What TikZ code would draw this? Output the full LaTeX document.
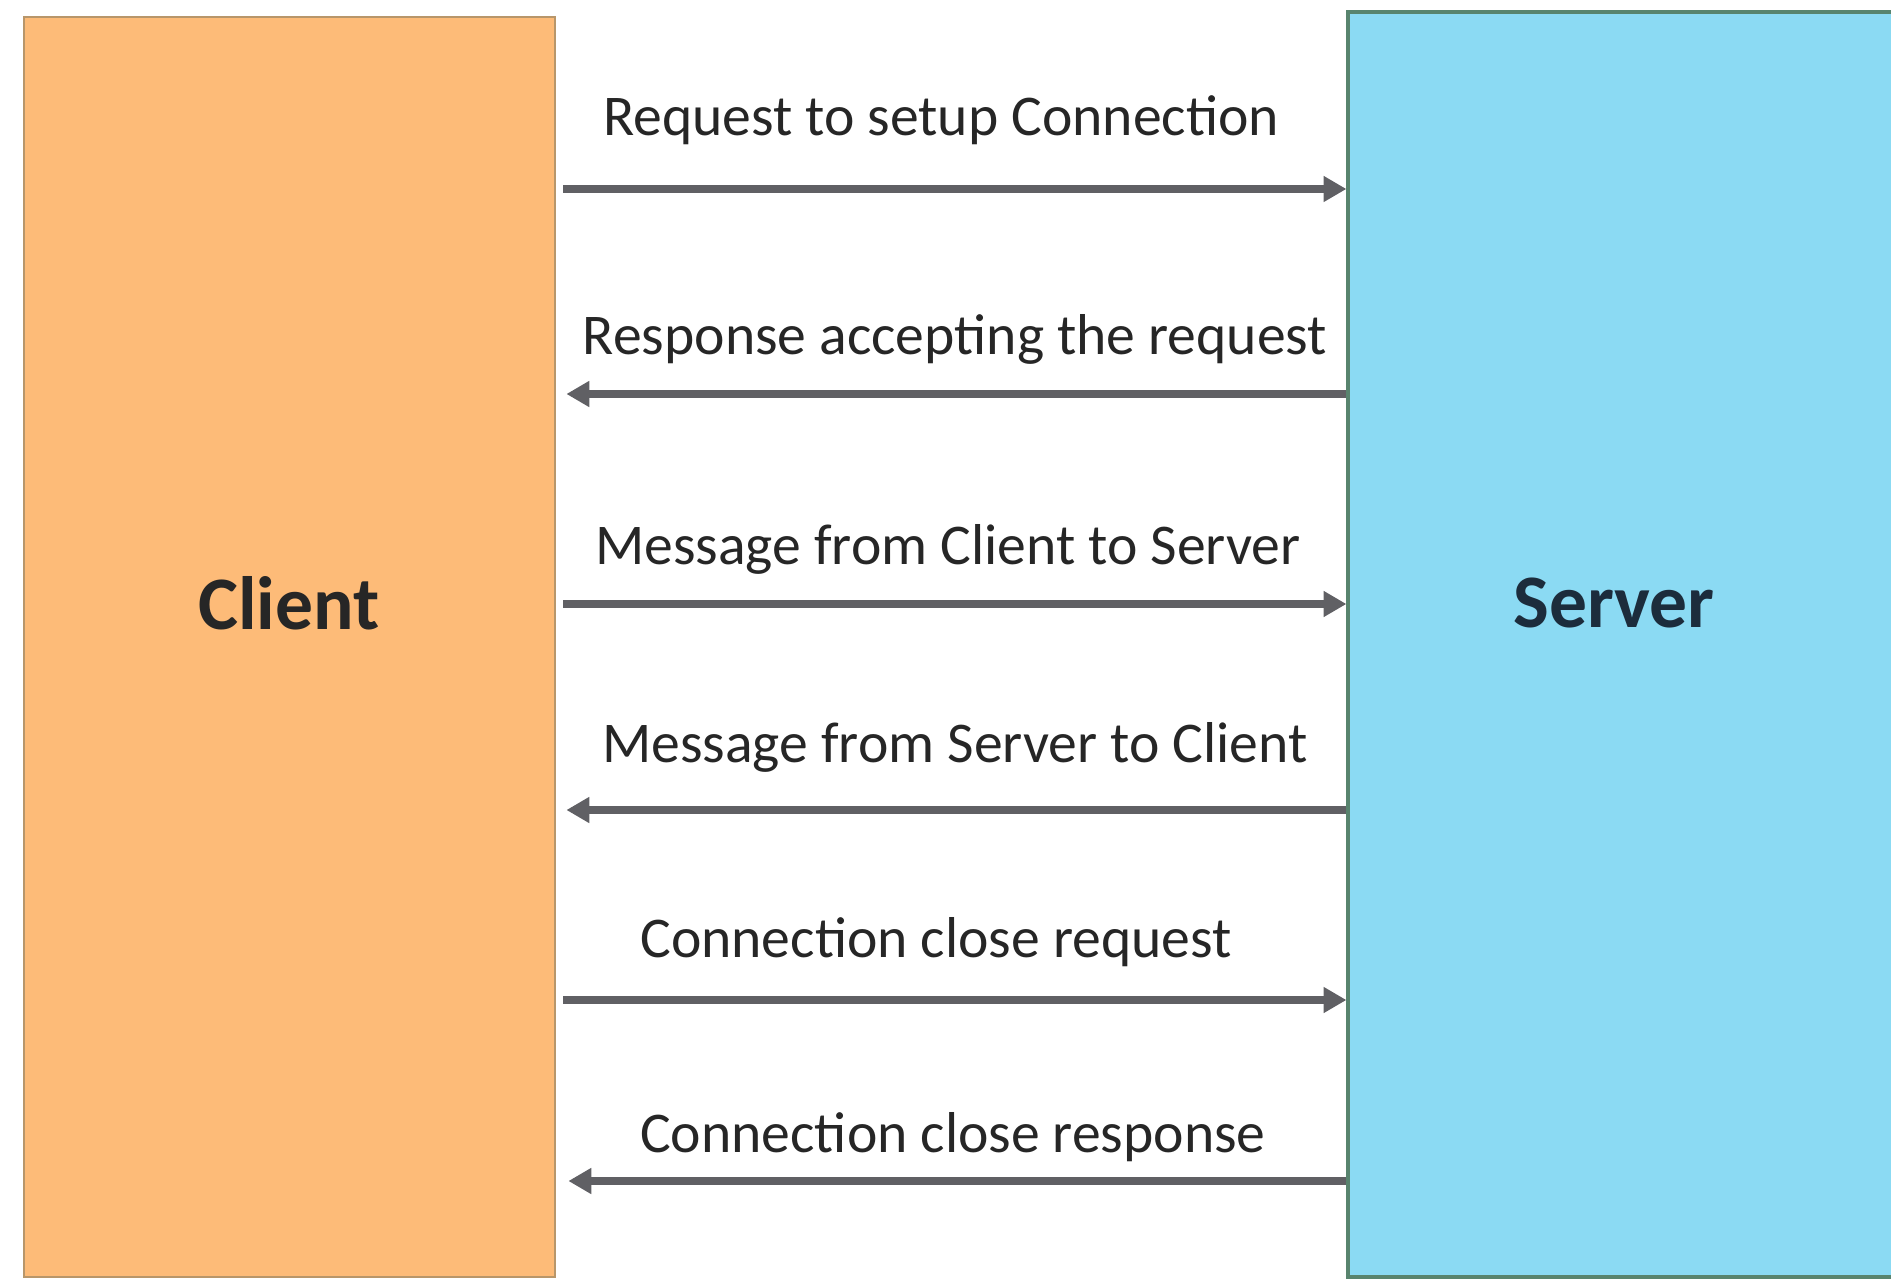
\documentclass[tikz,border=0pt]{standalone}
\usepackage{fontspec}
\setmainfont{Carlito}
\usetikzlibrary{arrows.meta}

\definecolor{clientfill}{RGB}{253,187,120}
\definecolor{clientline}{RGB}{184,150,106}
\definecolor{serverfill}{RGB}{139,218,243}
\definecolor{serverline}{RGB}{88,132,110}
\definecolor{msggray}{RGB}{96,96,100}
\definecolor{textdark}{RGB}{38,38,38}
\definecolor{servertext}{RGB}{28,44,60}

\begin{document}
\begin{tikzpicture}[
  msg/.style={draw=msggray, line width=2pt, -{Triangle[length=6.5pt,width=7pt]}},
  msgtext/.style={text=textdark, font=\fontsize{16.4}{19}\selectfont},
  boxtext/.style={font=\bfseries\fontsize{21.5}{25}\selectfont}
]

  % Rahmen
  \useasboundingbox (0,0) rectangle (18.91,12.78);

  % Client-Box
  \node[draw=clientline, fill=clientfill, line width=0.8pt, minimum width=5.31cm,
        minimum height=12.6cm, inner sep=0pt] (client) at (2.895,6.31) {};
  \node[boxtext, text=textdark] (clientlbl) at (2.89,6.75) {Client};

  % Server-Box
  \node[draw=serverline, fill=serverfill, line width=0.9pt, minimum width=6cm,
        minimum height=12.65cm, inner sep=0pt] (server) at (16.48,6.335) {};
  \node[boxtext, text=servertext] (serverlbl) at (16.14,6.75) {Server};

  % Verbindungsaufbau
  \draw[msg, shorten <=0.07cm] (client.east |- 0,10.89) -- (server.west |- 0,10.89);
  \node[msgtext] (m1) at (9.41,11.58) {Request to setup Connection};

  \draw[msg, shorten >=0.1cm] (server.west |- 0,8.84) -- (client.east |- 0,8.84);
  \node[msgtext] (m2) at (9.55,9.39) {Response accepting the request};

  % Nachrichten
  \draw[msg, shorten <=0.07cm] (client.east |- 0,6.74) -- (server.west |- 0,6.74);
  \node[msgtext] (m3) at (9.48,7.29) {Message from Client to Server};

  \draw[msg, shorten >=0.1cm] (server.west |- 0,4.68) -- (client.east |- 0,4.68);
  \node[msgtext] (m4) at (9.55,5.31) {Message from Server to Client};

  % Verbindungsabbau
  \draw[msg, shorten <=0.07cm] (client.east |- 0,2.78) -- (server.west |- 0,2.78);
  \node[msgtext] (m5) at (9.36,3.36) {Connection close request};

  \draw[msg, shorten >=0.12cm] (server.west |- 0,0.97) -- (client.east |- 0,0.97);
  \node[msgtext] (m6) at (9.53,1.41) {Connection close response};

\end{tikzpicture}
\end{document}
